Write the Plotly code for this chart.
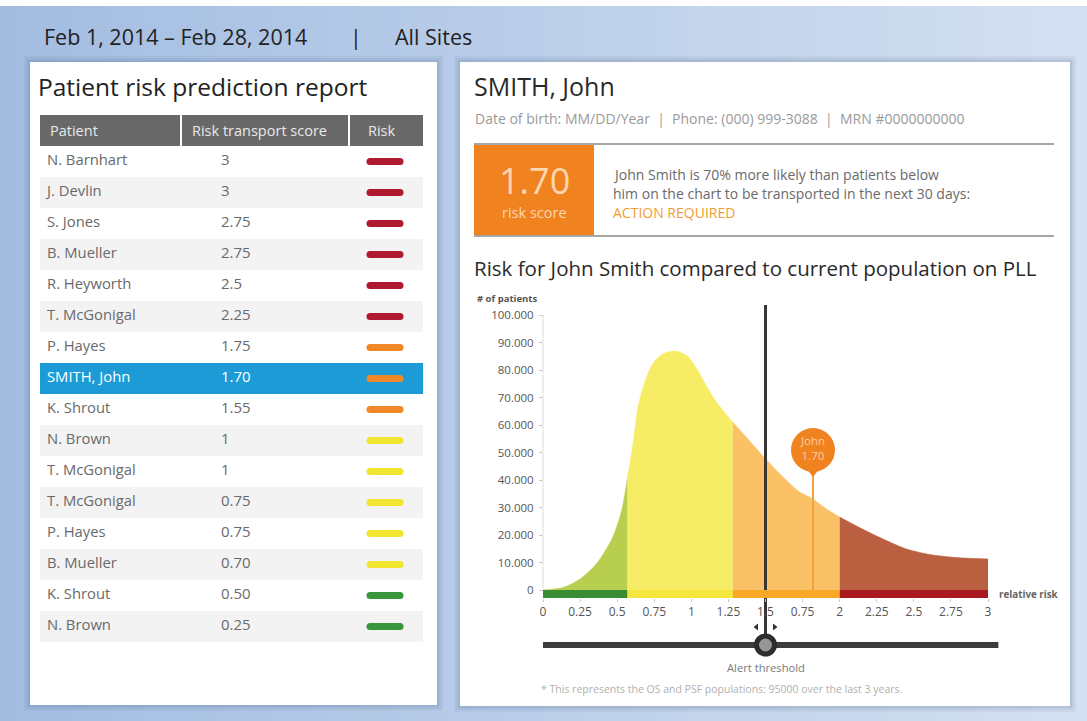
import plotly.graph_objects as go

W, H = 1087, 721
FONT = "Open Sans"

# ---------------- data ----------------
date_range = "Feb 1, 2014 – Feb 28, 2014"
site_filter = "All Sites"

table_title = "Patient risk prediction report"
table_headers = ["Patient", "Risk transport score", "Risk"]
patients = ["N. Barnhart", "J. Devlin", "S. Jones", "B. Mueller", "R. Heyworth",
            "T. McGonigal", "P. Hayes", "SMITH, John", "K. Shrout", "N. Brown",
            "T. McGonigal", "T. McGonigal", "P. Hayes", "B. Mueller", "K. Shrout",
            "N. Brown"]
scores = ["3", "3", "2.75", "2.75", "2.5", "2.25", "1.75", "1.70", "1.55", "1",
          "1", "0.75", "0.75", "0.70", "0.50", "0.25"]
risk_levels = ["high", "high", "high", "high", "high", "high",
               "medium", "medium", "medium",
               "low", "low", "low", "low", "low",
               "minimal", "minimal"]
selected_patient = "SMITH, John"

patient_name = "SMITH, John"
patient_details = "Date of birth: MM/DD/Year  |  Phone: (000) 999-3088  |  MRN #0000000000"
risk_score_text = "1.70"
risk_message = ["John Smith is 70% more likely than patients below",
                "him on the chart to be transported in the next 30 days:"]
risk_action = "ACTION REQUIRED"
chart_title = "Risk for John Smith compared to current population on PLL"

# population curve
relative_risk = [0, 0.14, 0.25, 0.36, 0.47, 0.53, 0.57, 0.61, 0.64, 0.69, 0.74,
                 0.81, 0.89, 0.97, 1.03, 1.10, 1.17, 1.28, 1.39, 1.49, 1.62,
                 1.73, 1.82, 1.91, 2.0, 2.13, 2.29, 2.45, 2.63, 2.81, 3.0]
num_patients = [0, 1000, 4000, 9500, 19200, 28900, 41000, 54400, 66500, 76200,
                82300, 85900, 86900, 85300, 81000, 74400, 68300, 61000, 54400,
                48300, 41000, 35600, 33100, 29500, 26500, 22800, 18600, 14900,
                12700, 11700, 11300]
zone_edges = [0, 0.57, 1.28, 2.0, 3.0]
zone_names = ["minimal", "low", "medium", "high"]

x_tickvals = [0, 0.25, 0.5, 0.75, 1, 1.25, 1.5, 1.75, 2, 2.25, 2.5, 2.75, 3]
x_ticktext = ["0", "0.25", "0.5", "0.75", "1", "1.25", "1.5", "0.75", "2",
              "2.25", "2.5", "2.75", "3"]
y_tickvals = [0, 10000, 20000, 30000, 40000, 50000, 60000, 70000, 80000, 90000, 100000]
y_ticktext = ["0", "10.000", "20.000", "30.000", "40.000", "50.000", "60.000",
              "70.000", "80.000", "90.000", "100.000"]

alert_threshold = 1.5
slider_end = 3.07
john_position = 1.82
john_label = "John<br>1.70"
footnote = "* This represents the OS and PSF populations: 95000 over the last 3 years."

# ---------------- styles ----------------
fill_colors = {"minimal": "rgb(184,206,78)", "low": "rgb(247,236,102)",
               "medium": "rgb(251,193,102)", "high": "rgb(186,95,64)"}
band_colors = {"minimal": "rgb(58,140,52)", "low": "rgb(245,230,62)",
               "medium": "rgb(246,168,38)", "high": "rgb(168,26,30)"}
pill_colors = {"high": "rgb(176,26,48)", "medium": "rgb(240,136,40)",
               "low": "rgb(242,229,48)", "minimal": "rgb(58,150,60)"}
ORANGE = "rgb(240,130,32)"


def px(x):
    return x / W


def py(y):
    return 1 - y / H


# chart axis pixel mapping (0 -> 543px, 3 -> 988px ; 0 -> 590px, 100000 -> 315px)
X0PX, XSCALE = 543.0, (988.0 - 543.0) / 3.0
Y0PX, YSCALE = 590.0, (590.0 - 315.0) / 100000.0
CH_L, CH_R, CH_T, CH_B = 530, 1012, 298, 664


def vx(p):
    return (p - X0PX) / XSCALE


def vy(p):
    return (Y0PX - p) / YSCALE


fig = go.Figure()
shapes = []
ann = []

# ---------------- background ----------------
c_left = (163, 189, 225)
c_right = (212, 224, 241)
n = 60
for i in range(n):
    t = i / (n - 1)
    col = tuple(int(round(a + (b - a) * t)) for a, b in zip(c_left, c_right))
    shapes.append(dict(type="rect", xref="paper", yref="paper", layer="below",
                       x0=px(W * i / n), x1=px(W * (i + 1) / n + 1),
                       y0=py(6), y1=py(H), line_width=0,
                       fillcolor="rgb(%d,%d,%d)" % col))
# panel shadows + panels
for (l, t_, r, b) in [(30, 62, 437, 705), (460, 62, 1070, 706)]:
    for k, a in [(6, 0.05), (4, 0.06), (2, 0.08)]:
        shapes.append(dict(type="rect", xref="paper", yref="paper", layer="below",
                           x0=px(l - k), x1=px(r + k), y0=py(t_ - k), y1=py(b + k),
                           line_width=0, fillcolor="rgba(40,60,100,%.2f)" % a))
    shapes.append(dict(type="rect", xref="paper", yref="paper", layer="below",
                       x0=px(l), x1=px(r), y0=py(t_), y1=py(b), line_width=0,
                       fillcolor="white"))

for txt, xx, anc in [(date_range, 42, "left"), ("|", 356, "center"), (site_filter, 393, "left")]:
    ann.append(dict(x=px(xx), y=py(37), xref="paper", yref="paper", text=txt,
                    showarrow=False, xanchor=anc, yanchor="middle",
                    font=dict(family=FONT, size=21.5, color="#222")))

# ---------------- left table ----------------
TL, TR, TT, TB = 40, 423, 115, 642
nrows = len(patients)
sel = patients.index(selected_patient)
ann.append(dict(x=px(36), y=py(87), xref="paper", yref="paper", text=table_title,
                showarrow=False, xanchor="left", yanchor="middle",
                font=dict(family=FONT, size=24.5, color="#222")))
# header and stripes on table axes
shapes.append(dict(type="rect", xref="x3", yref="y3", x0=0, x1=TR - TL, y0=-1.5,
                   y1=-0.5, line_width=0, fillcolor="rgb(104,104,104)", layer="below"))
for xd in [141, 309]:
    shapes.append(dict(type="line", xref="x3", yref="y3", x0=xd, x1=xd, y0=-1.5,
                       y1=-0.5, line=dict(color="white", width=2)))
for i in range(nrows):
    if i == sel:
        col = "rgb(28,155,215)"
    elif i % 2 == 1:
        col = "rgb(243,243,243)"
    else:
        continue
    shapes.append(dict(type="rect", xref="x3", yref="y3", x0=0, x1=TR - TL,
                       y0=i - 0.5, y1=i + 0.5, line_width=0, fillcolor=col,
                       layer="below"))
for txt, xh in zip(table_headers, [8, 150, 326]):
    ann.append(dict(x=xh, y=-1, xref="x3", yref="y3", text=txt, showarrow=False,
                    xanchor="left", yanchor="middle",
                    font=dict(family=FONT, size=14.5, color="#e8e8e8")))
rows = list(range(nrows))
txt_cols = ["white" if i == sel else "#6a6a6a" for i in rows]
fig.add_trace(go.Scatter(x=[7] * nrows, y=rows, text=patients, mode="text",
                         textposition="middle right", xaxis="x3", yaxis="y3",
                         textfont=dict(family=FONT, size=14.8, color=txt_cols),
                         hoverinfo="skip", showlegend=False))
fig.add_trace(go.Scatter(x=[181] * nrows, y=rows, text=scores, mode="text",
                         textposition="middle right", xaxis="x3", yaxis="y3",
                         textfont=dict(family=FONT, size=15, color=txt_cols),
                         hoverinfo="skip", showlegend=False))
pill_cols = [pill_colors[r] for r in risk_levels]
fig.add_trace(go.Scatter(x=[345] * nrows, y=rows, mode="markers", xaxis="x3",
                         yaxis="y3",
                         marker=dict(symbol="line-ew", size=22,
                                     line=dict(width=7, color=pill_cols)),
                         hoverinfo="skip", showlegend=False))
for side in (-15, 15):
    fig.add_trace(go.Scatter(x=[345 + side] * nrows, y=rows, mode="markers", xaxis="x3",
                             yaxis="y3",
                             marker=dict(symbol="circle", size=7, color=pill_cols,
                                         line_width=0),
                             hoverinfo="skip", showlegend=False))

# ---------------- right panel header ----------------
ann.append(dict(x=px(472), y=py(86), xref="paper", yref="paper", text=patient_name,
                showarrow=False, xanchor="left", yanchor="middle",
                font=dict(family=FONT, size=25, color="#2a2a2a")))
ann.append(dict(x=px(473), y=py(118), xref="paper", yref="paper", text=patient_details,
                showarrow=False, xanchor="left", yanchor="middle",
                font=dict(family=FONT, size=14, color="#9a9a9a")))
for yl in [144, 236]:
    shapes.append(dict(type="line", xref="paper", yref="paper", x0=px(474), x1=px(1054),
                       y0=py(yl), y1=py(yl), line=dict(color="#8a8a8a", width=1.5)))
shapes.append(dict(type="rect", xref="paper", yref="paper", x0=px(474), x1=px(594),
                   y0=py(145), y1=py(235), line_width=0, fillcolor=ORANGE))
ann.append(dict(x=px(534), y=py(180), xref="paper", yref="paper", text=risk_score_text,
                showarrow=False, xanchor="center", yanchor="middle",
                font=dict(family=FONT, size=36, color="rgb(252,214,176)")))
ann.append(dict(x=px(534), y=py(213), xref="paper", yref="paper", text="risk score",
                showarrow=False, xanchor="center", yanchor="middle",
                font=dict(family=FONT, size=14.5, color="rgb(252,214,176)")))
for k, line in enumerate(risk_message):
    ann.append(dict(x=px(611), y=py(174 + 19.5 * k), xref="paper", yref="paper",
                    text=line, showarrow=False, xanchor="left", yanchor="middle",
                    font=dict(family=FONT, size=14, color="#6a6a6a")))
ann.append(dict(x=px(611), y=py(213), xref="paper", yref="paper", text=risk_action,
                showarrow=False, xanchor="left", yanchor="middle",
                font=dict(family=FONT, size=14, color="rgb(243,156,54)")))
ann.append(dict(x=px(472), y=py(268), xref="paper", yref="paper", text=chart_title,
                showarrow=False, xanchor="left", yanchor="middle",
                font=dict(family=FONT, size=20.5, color="#2a2a2a")))

# ---------------- distribution chart ----------------
for zi, zname in enumerate(zone_names):
    lo, hi = zone_edges[zi], zone_edges[zi + 1]
    xs = [x for x in relative_risk if lo <= x <= hi]
    ys = [y for x, y in zip(relative_risk, num_patients) if lo <= x <= hi]
    fig.add_trace(go.Scatter(x=xs, y=ys, mode="lines", fill="tozeroy",
                             line=dict(color=fill_colors[zname], width=0.5,
                                       shape="spline", smoothing=0.8),
                             fillcolor=fill_colors[zname], hoverinfo="skip",
                             showlegend=False))
# colored baseline band
band_h = vy(598)
for zi, zname in enumerate(zone_names):
    shapes.append(dict(type="rect", xref="x", yref="y", x0=zone_edges[zi],
                       x1=zone_edges[zi + 1], y0=band_h, y1=0, line_width=0,
                       fillcolor=band_colors[zname]))
# y axis line
shapes.append(dict(type="line", xref="x", yref="y", x0=0, x1=0, y0=0,
                   y1=y_tickvals[-1], line=dict(color="#dcdcdc", width=1)))

# John pin
pin_tip = vy(476)
fig.add_trace(go.Scatter(x=[john_position, john_position], y=[0, pin_tip], mode="lines",
                         line=dict(color="rgb(245,160,60)", width=2),
                         hoverinfo="skip", showlegend=False))
fig.add_trace(go.Scatter(x=[john_position], y=[vy(470)], mode="markers",
                         marker=dict(symbol="triangle-down", size=14, color=ORANGE),
                         hoverinfo="skip", showlegend=False))
fig.add_trace(go.Scatter(x=[john_position], y=[vy(450)], mode="markers+text",
                         marker=dict(symbol="circle", size=44, color=ORANGE),
                         text=[john_label], textposition="middle center",
                         textfont=dict(family=FONT, size=11.5, color="rgb(252,205,160)"),
                         hoverinfo="skip", showlegend=False))

# alert threshold slider
fig.add_trace(go.Scatter(x=[0, slider_end], y=[vy(645), vy(645)], mode="lines",
                         line=dict(color="rgb(60,60,60)", width=6),
                         hoverinfo="skip", showlegend=False))
fig.add_trace(go.Scatter(x=[alert_threshold, alert_threshold], y=[vy(305), vy(645)],
                         mode="lines", line=dict(color="rgb(55,55,55)", width=3),
                         hoverinfo="skip", showlegend=False))
fig.add_trace(go.Scatter(x=[alert_threshold], y=[vy(645)], mode="markers",
                         marker=dict(symbol="circle", size=18, color="rgb(150,150,150)",
                                     line=dict(color="rgb(45,45,45)", width=5)),
                         hoverinfo="skip", showlegend=False))
arrow_off = vx(552) - vx(543)
fig.add_trace(go.Scatter(x=[alert_threshold - arrow_off, alert_threshold + arrow_off],
                         y=[vy(627), vy(627)], mode="markers",
                         marker=dict(symbol=["triangle-left", "triangle-right"], size=6,
                                     color="rgb(50,50,50)"),
                         hoverinfo="skip", showlegend=False))

ann.append(dict(x=px(475), y=py(298), xref="paper", yref="paper", text="<b># of patients</b>",
                showarrow=False, xanchor="left", yanchor="middle",
                font=dict(family=FONT, size=9.5, color="#555")))
ann.append(dict(x=px(997), y=py(594), xref="paper", yref="paper", text="<b>relative risk</b>",
                showarrow=False, xanchor="left", yanchor="middle",
                font=dict(family=FONT, size=9.8, color="#666")))
ann.append(dict(x=alert_threshold, y=py(667), xref="x", yref="paper", text="Alert threshold",
                showarrow=False, xanchor="center", yanchor="middle",
                font=dict(family=FONT, size=11.2, color="#7a7a7a")))
ann.append(dict(x=px(539), y=py(689), xref="paper", yref="paper", text=footnote,
                showarrow=False, xanchor="left", yanchor="middle",
                font=dict(family=FONT, size=10.5, color="#b0b0b0")))

fig.update_layout(
    width=W, height=H, margin=dict(l=0, r=0, t=0, b=0),
    paper_bgcolor="white", plot_bgcolor="rgba(0,0,0,0)",
    shapes=shapes, annotations=ann, showlegend=False,
    xaxis=dict(domain=[px(CH_L), px(CH_R)], range=[vx(CH_L), vx(CH_R)],
               anchor="free", position=py(598), tickmode="array",
               tickvals=x_tickvals, ticktext=x_ticktext, showgrid=False,
               zeroline=False, showline=False, ticks="outside", ticklen=3,
               tickcolor="#c8c8c8", tickfont=dict(family=FONT, size=12, color="#555"),
               fixedrange=True),
    yaxis=dict(domain=[py(CH_B), py(CH_T)], range=[vy(CH_B), vy(CH_T)],
               anchor="free", position=px(543), tickmode="array",
               tickvals=y_tickvals, ticktext=y_ticktext, showgrid=False,
               zeroline=False, showline=False, ticks="outside", ticklen=4,
               tickcolor="#c8c8c8", tickfont=dict(family=FONT, size=11.5, color="#555"),
               ticklabelstandoff=3, fixedrange=True),
    xaxis3=dict(domain=[px(TL), px(TR)], range=[0, TR - TL], visible=False,
                anchor="y3", fixedrange=True),
    yaxis3=dict(domain=[py(TB), py(TT)], range=[nrows - 0.5, -1.5], visible=False,
                anchor="x3", fixedrange=True),
)

fig.write_html("out.html", config={"displayModeBar": False},
               post_script="document.body.style.margin='0';document.body.style.overflow='hidden';")
